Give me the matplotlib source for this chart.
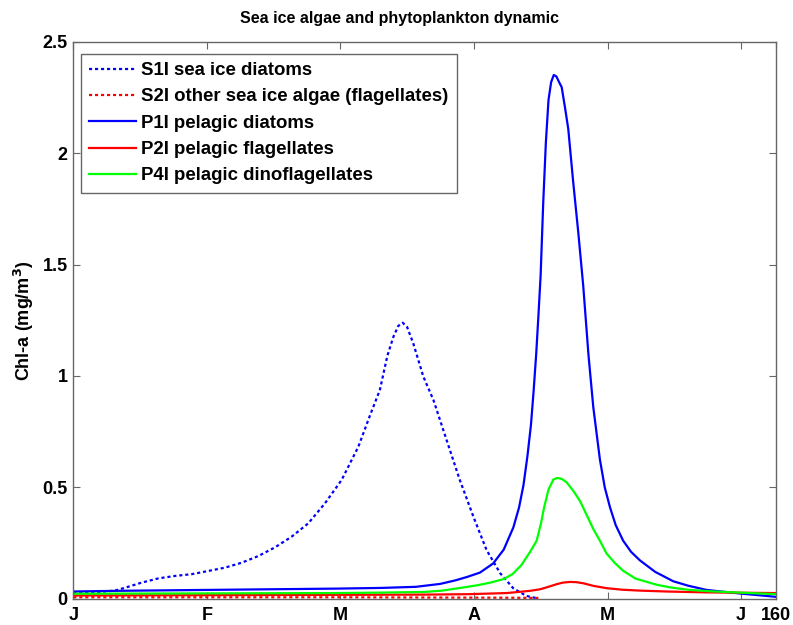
#!/usr/bin/env python3

import matplotlib
matplotlib.use('Agg')
import matplotlib.pyplot as plt

# Day of year (0 = 1 January) and Chl-a (mg/m3)
s1_day = [0, 5, 9.5, 11.8, 15.6, 19.4, 23.2, 27.0, 30.7, 34.5, 38.3, 42.1, 45.9, 49.7, 53.5,
          57.3, 61.1, 64.9, 67.5, 69.8, 71.5, 72.9, 74.0, 75.0, 76.0, 77.4, 79.7, 82.0, 85.0,
          88.0, 91.1, 94.1, 97.2, 100.2, 103.2, 105.9]
s1_chl = [0.025, 0.028, 0.036, 0.049, 0.072, 0.091, 0.102, 0.11, 0.124, 0.139, 0.161, 0.191,
          0.23, 0.278, 0.338, 0.428, 0.533, 0.682, 0.82, 0.937, 1.09, 1.177, 1.225, 1.239, 1.22,
          1.147, 0.997, 0.892, 0.712, 0.533, 0.368, 0.218, 0.114, 0.046, 0.012, 0.0]

s2_day = [0, 20, 40, 60, 80, 100, 106]
s2_chl = [0.006, 0.006, 0.006, 0.006, 0.005, 0.004, 0.003]

p1_day = [0, 10, 20, 30, 40, 50, 60, 70, 78, 83.5, 87, 89.6, 92.6, 95.6, 98.0, 100.2, 101.5,
          102.5, 103.4, 104.2, 104.8, 105.4, 105.9, 106.4, 107.0, 107.6, 108.2, 108.8, 109.4,
          110.0, 110.6, 111.2, 112.0, 112.7, 113.8, 115.0, 116.1, 117.3, 118.4, 119.9, 121.0,
          122.2, 123.5, 125.2, 127.0, 129.0, 132.5, 136.6, 140.0, 144.2, 151.8, 160]
p1_chl = [0.032, 0.035, 0.037, 0.039, 0.041, 0.043, 0.045, 0.048, 0.053, 0.066, 0.082, 0.097,
          0.117, 0.158, 0.22, 0.32, 0.41, 0.51, 0.64, 0.78, 0.93, 1.1, 1.27, 1.45, 1.78, 2.05,
          2.24, 2.32, 2.352, 2.345, 2.32, 2.297, 2.2, 2.109, 1.875, 1.64, 1.406, 1.094, 0.859,
          0.625, 0.5, 0.41, 0.33, 0.26, 0.21, 0.172, 0.12, 0.078, 0.058, 0.039, 0.023, 0.008]

p2_day = [0, 20, 40, 60, 80, 90, 98.7, 104, 106.3, 108, 110.1, 111.5, 113.1, 114.5, 116.1,
          118.5, 121.4, 125, 129.0, 135, 144.2, 160]
p2_chl = [0.014, 0.015, 0.016, 0.017, 0.018, 0.02, 0.025, 0.035, 0.042, 0.052, 0.065, 0.072,
          0.075, 0.074, 0.069, 0.057, 0.047, 0.04, 0.036, 0.032, 0.028, 0.025]

p4_day = [0, 20, 40, 60, 70, 80, 84, 88.8, 92, 95, 98, 100, 102, 104, 105.5, 106.5, 107.2,
          108.2, 109.3, 110.2, 111.2, 112.3, 113.8, 115.4, 116.9, 118.4, 119.9, 121.4, 123.3,
          125.2, 128.0, 132.8, 136.0, 140.4, 145.0, 151.8, 160]
p4_chl = [0.022, 0.023, 0.024, 0.025, 0.027, 0.03, 0.036, 0.05, 0.06, 0.072, 0.088, 0.11,
          0.15, 0.21, 0.26, 0.34, 0.41, 0.49, 0.535, 0.542, 0.538, 0.523, 0.485, 0.4375, 0.375,
          0.3125, 0.26, 0.203, 0.16, 0.125, 0.09, 0.0625, 0.05, 0.039, 0.033, 0.027, 0.02]

labels = ['S1I sea ice diatoms',
          'S2I other sea ice algae (flagellates)',
          'P1I pelagic diatoms',
          'P2I pelagic flagellates',
          'P4I pelagic dinoflagellates']

# Month ticks evenly spaced over the year, last tick at day 160
x_ticks = [k * 365.0 / 12 for k in range(6)] + [160]
x_ticklabels = ['J', 'F', 'M', 'A', 'M', 'J', '160']
y_ticks = [0, 0.5, 1, 1.5, 2, 2.5]
y_ticklabels = ['0', '0.5', '1', '1.5', '2', '2.5']


def main():
    matplotlib.rcParams.update({'font.family': ['Liberation Sans', 'DejaVu Sans'],
                                'font.weight': 'bold'})

    fig = plt.figure(figsize=(7.93, 6.25), dpi=100)
    ax = fig.add_axes([0.0924, 0.0422, 0.8862, 0.8906])

    dot = (0, (1.4, 1.3))
    ax.plot(s1_day, s1_chl, color='#0000ff', lw=1.6, linestyle=dot, label=labels[0])
    ax.plot(s2_day, s2_chl, color='#ff0000', lw=1.6, linestyle=dot, label=labels[1])
    ax.plot(p1_day, p1_chl, color='#0000ff', lw=1.6, label=labels[2])
    ax.plot(p2_day, p2_chl, color='#ff0000', lw=1.6, label=labels[3])
    ax.plot(p4_day, p4_chl, color='#00ff00', lw=1.6, label=labels[4])

    ax.set_xlim(0, 160)
    ax.set_ylim(0, 2.5)
    ax.set_xticks(x_ticks)
    ax.set_xticklabels(x_ticklabels, fontsize=13, fontweight='bold')
    ax.set_yticks(y_ticks)
    ax.set_yticklabels(y_ticklabels, fontsize=13, fontweight='bold')
    ax.tick_params(direction='in', length=5, width=0.8, color='#666666',
                   top=True, right=True)
    ax.tick_params(axis='x', pad=6)
    ax.tick_params(axis='y', pad=4)

    for s in ax.spines.values():
        s.set_color('#666666')
        s.set_linewidth(1)

    ax.set_ylabel('Chl-a (mg/m$^\\mathbf{3}$)', fontsize=13, fontweight='bold', labelpad=5)
    fig.text(0.504, 0.971, 'Sea ice algae and phytoplankton dynamic',
             ha='center', va='center', fontsize=11.5, fontweight='bold')

    leg = ax.legend(loc='upper left', bbox_to_anchor=(0.0105, 0.979), borderaxespad=0,
                    fancybox=False, fontsize=13.4, handlelength=2.5, handletextpad=0.3,
                    labelspacing=0.5, borderpad=0.45, framealpha=1)
    leg.get_frame().set_edgecolor('#666666')
    leg.get_frame().set_linewidth(1)
    for t in leg.get_texts():
        t.set_fontweight('bold')

    fig.savefig('out.png', dpi=100)


if __name__ == '__main__':
    main()
